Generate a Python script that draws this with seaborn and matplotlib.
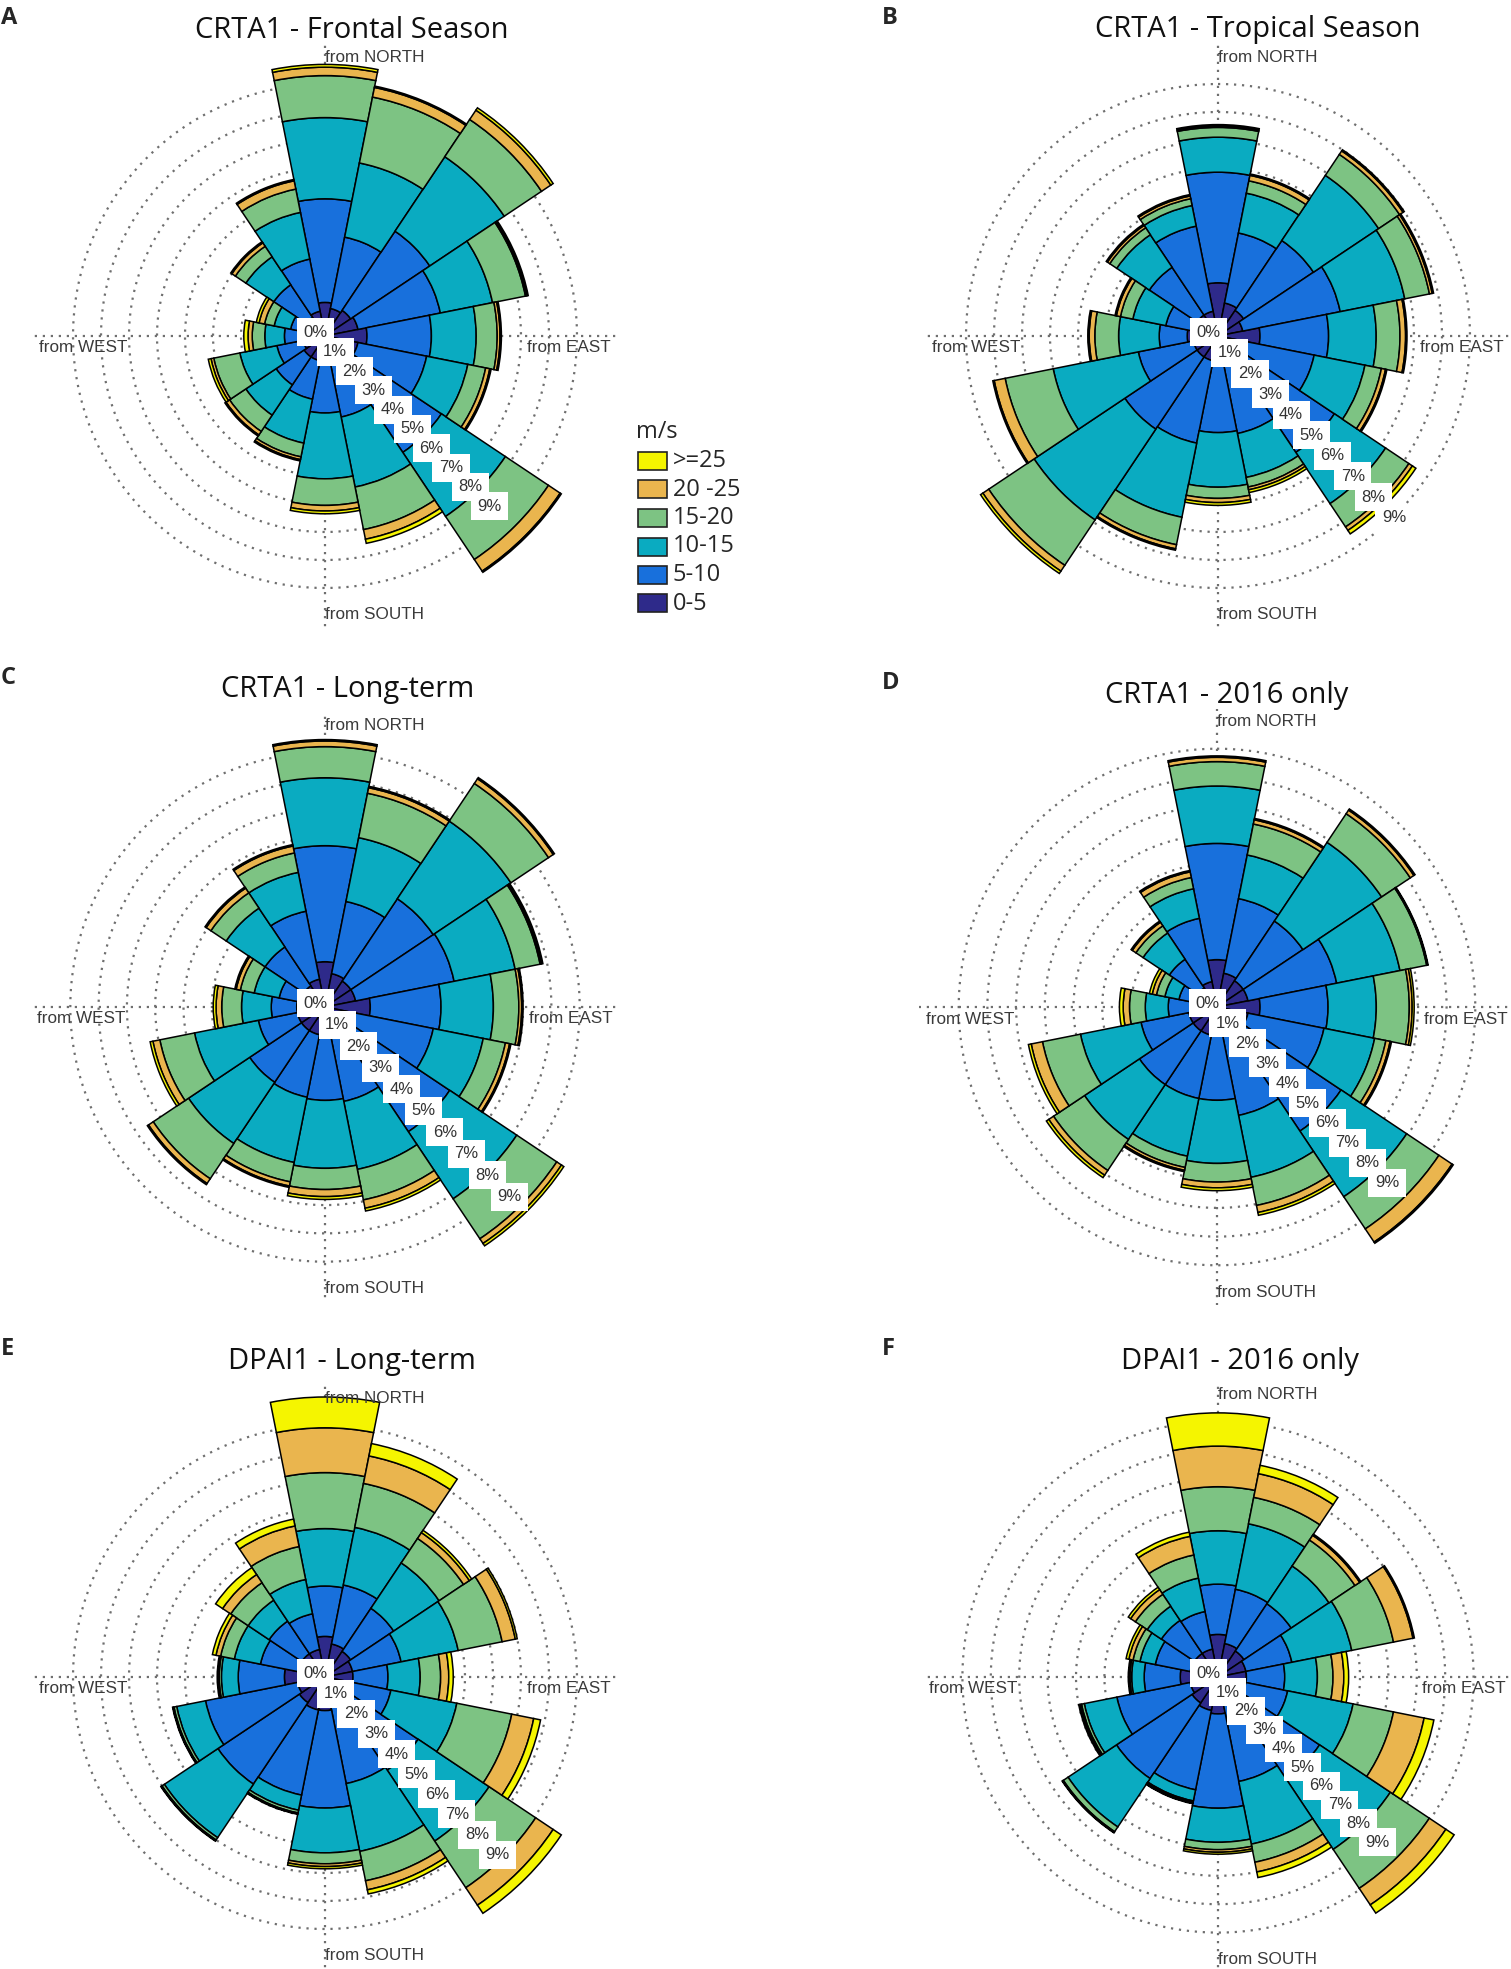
import numpy as np
import matplotlib
matplotlib.use("Agg")
import matplotlib.pyplot as plt
from matplotlib.patches import Rectangle
import seaborn as sns

sns.set_theme(style="white")
plt.rcParams['font.family'] = ['Liberation Sans', 'DejaVu Sans']

## Data: cumulative frequency (%) at the outer edge of each speed class,
## rows = direction the wind blows from, cols = 0-5, 5-10, 10-15, 15-20, 20-25, >=25 m/s
directions = ['N', 'NNE', 'NE', 'ENE', 'E', 'ESE', 'SE', 'SSE',
              'S', 'SSW', 'SW', 'WSW', 'W', 'WNW', 'NW', 'NNW']
speed_labels = ['0-5', '5-10', '10-15', '15-20', '20 -25', '>=25']
bin_colors = sns.color_palette(['#2e2a8a', '#1870dc', '#0aabc1',
                                '#7dc383', '#eab54e', '#f5f500'])

crta1_frontal = [
    [1.2, 4.9, 7.8, 9.3, 9.6, 9.7],
    [1.0, 3.6, 6.3, 8.7, 9.05, 9.1],
    [1.1, 4.5, 7.7, 9.3, 9.7, 9.8],
    [1.2, 4.2, 6.1, 7.3, 7.35, 7.4],
    [1.5, 3.8, 5.4, 6.15, 6.25, 6.3],
    [1.2, 3.7, 5.2, 5.85, 6.0, 6.05],
    [1.0, 5.0, 7.75, 9.6, 10.1, 10.15],
    [1.0, 2.95, 5.5, 7.05, 7.4, 7.55],
    [0.9, 2.75, 5.1, 6.05, 6.25, 6.35],
    [0.9, 2.3, 3.9, 4.4, 4.5, 4.55],
    [0.9, 2.1, 3.4, 4.1, 4.25, 4.3],
    [0.8, 1.75, 3.1, 4.05, 4.15, 4.25],
    [0.8, 1.45, 2.15, 2.6, 2.75, 2.9],
    [0.8, 1.25, 1.85, 2.2, 2.4, 2.5],
    [0.8, 2.2, 3.4, 3.85, 4.0, 4.05],
    [0.9, 2.8, 4.5, 5.35, 5.65, 5.7],
]
crta1_tropical = [
    [1.9, 5.85, 7.1, 7.45, 7.5, 7.55],
    [1.2, 3.75, 5.2, 5.65, 5.85, 5.9],
    [1.1, 4.1, 6.9, 7.8, 7.95, 8.0],
    [0.9, 4.45, 6.8, 7.7, 7.8, 7.85],
    [1.5, 3.95, 5.65, 6.5, 6.7, 6.75],
    [1.0, 3.5, 5.35, 5.95, 6.1, 6.15],
    [1.0, 5.0, 7.2, 8.2, 8.35, 8.5],
    [1.0, 3.55, 5.15, 5.5, 5.6, 5.7],
    [0.9, 3.45, 5.4, 5.8, 5.95, 6.05],
    [0.9, 3.9, 6.6, 7.6, 7.75, 7.8],
    [0.9, 4.0, 7.9, 9.85, 10.1, 10.2],
    [0.9, 2.9, 6.0, 7.75, 8.15, 8.2],
    [1.1, 2.1, 3.55, 4.4, 4.6, 4.65],
    [0.9, 1.9, 3.1, 3.55, 3.7, 3.75],
    [0.9, 2.95, 4.35, 4.65, 4.75, 4.8],
    [0.9, 4.0, 4.75, 5.0, 5.1, 5.15],
]
crta1_longterm = [
    [1.6, 5.7, 8.1, 9.2, 9.4, 9.45],
    [1.2, 3.8, 6.1, 7.7, 7.9, 7.95],
    [1.1, 4.6, 7.9, 9.5, 9.7, 9.75],
    [1.1, 4.65, 6.85, 7.75, 7.8, 7.85],
    [1.6, 4.1, 5.95, 6.85, 6.95, 7.0],
    [1.1, 3.9, 5.7, 6.5, 6.65, 6.7],
    [1.1, 5.3, 8.15, 9.85, 10.05, 10.15],
    [1.0, 3.4, 5.85, 6.95, 7.25, 7.35],
    [1.0, 3.3, 5.7, 6.45, 6.7, 6.8],
    [1.0, 3.25, 5.6, 6.3, 6.45, 6.5],
    [1.0, 3.2, 5.8, 7.3, 7.5, 7.55],
    [1.0, 2.4, 4.7, 5.95, 6.2, 6.3],
    [1.0, 1.9, 2.95, 3.65, 3.85, 3.95],
    [0.9, 1.65, 2.55, 3.05, 3.2, 3.25],
    [0.9, 2.55, 4.2, 4.85, 5.05, 5.1],
    [1.0, 3.45, 4.85, 5.55, 5.8, 5.85],
]
crta1_2016 = [
    [1.65, 5.7, 7.7, 8.55, 8.7, 8.75],
    [1.2, 3.85, 5.4, 6.5, 6.65, 6.7],
    [1.1, 3.6, 6.9, 8.1, 8.25, 8.3],
    [1.1, 4.25, 6.5, 7.45, 7.48, 7.5],
    [1.5, 3.87, 5.55, 6.7, 6.8, 6.87],
    [1.1, 3.8, 5.6, 6.0, 6.15, 6.2],
    [1.0, 5.2, 7.95, 9.3, 9.85, 9.9],
    [1.0, 3.85, 6.05, 7.05, 7.3, 7.4],
    [1.0, 3.25, 5.45, 6.1, 6.3, 6.4],
    [1.0, 3.25, 5.3, 5.7, 5.8, 5.85],
    [1.0, 3.25, 5.55, 6.85, 7.05, 7.15],
    [1.0, 2.7, 4.85, 6.2, 6.6, 6.7],
    [0.9, 1.7, 2.5, 3.05, 3.27, 3.4],
    [0.8, 1.35, 1.85, 2.15, 2.3, 2.4],
    [0.8, 2.0, 3.1, 3.4, 3.55, 3.6],
    [0.9, 3.15, 4.2, 4.6, 4.8, 4.85],
]
dpai1_longterm = [
    [1.45, 3.25, 5.3, 7.3, 8.9, 10.0],
    [1.2, 3.35, 5.45, 7.05, 8.05, 8.5],
    [1.1, 2.95, 4.9, 5.95, 6.2, 6.3],
    [1.0, 2.77, 4.85, 6.45, 6.93, 7.0],
    [1.0, 2.25, 3.4, 4.13, 4.42, 4.58],
    [1.0, 2.4, 4.8, 6.8, 7.6, 7.85],
    [1.0, 4.0, 7.05, 9.05, 9.8, 10.15],
    [1.0, 3.88, 6.35, 7.42, 7.75, 7.9],
    [1.2, 4.68, 6.28, 6.67, 6.77, 6.85],
    [1.2, 4.3, 4.85, 4.95, 4.98, 5.0],
    [1.1, 4.6, 6.9, 7.0, 7.03, 7.05],
    [1.0, 4.35, 5.4, 5.5, 5.53, 5.55],
    [1.45, 3.1, 3.7, 3.78, 3.82, 3.85],
    [1.0, 2.35, 3.3, 3.8, 3.97, 4.1],
    [1.0, 2.4, 3.3, 4.05, 4.4, 4.7],
    [1.0, 2.3, 3.55, 4.75, 5.5, 5.75],
]
dpai1_2016 = [
    [1.5, 3.27, 5.15, 6.7, 8.13, 9.3],
    [1.2, 3.15, 5.5, 6.45, 7.3, 7.6],
    [1.1, 3.1, 4.7, 5.8, 6.0, 6.05],
    [1.0, 2.65, 4.8, 6.3, 7.0, 7.05],
    [1.0, 2.35, 3.5, 4.05, 4.43, 4.6],
    [1.0, 2.5, 4.85, 6.3, 7.4, 7.75],
    [1.0, 4.3, 7.3, 8.95, 9.65, 10.0],
    [1.0, 3.75, 6.0, 6.65, 7.0, 7.2],
    [1.3, 4.62, 5.82, 6.08, 6.17, 6.24],
    [1.2, 4.05, 4.45, 4.5, 4.53, 4.55],
    [1.1, 4.3, 6.35, 6.55, 6.58, 6.6],
    [1.0, 3.63, 4.8, 4.9, 4.95, 5.0],
    [1.33, 2.6, 3.04, 3.1, 3.13, 3.16],
    [1.0, 2.25, 2.8, 3.05, 3.2, 3.3],
    [1.0, 2.4, 3.0, 3.5, 3.7, 3.8],
    [1.0, 2.35, 3.55, 4.38, 5.05, 5.2],
]

# letter, title, data, rose centre (px), px per 1 %, step of the % labels, title centre (px)
panels = [
    ('A', 'CRTA1 - Frontal Season', crta1_frontal, (325, 336), 28.0, 0.69, (352, 30)),
    ('B', 'CRTA1 - Tropical Season', crta1_tropical, (1218, 336), 28.0, 0.735, (1258, 30)),
    ('C', 'CRTA1 - Long-term', crta1_longterm, (325, 1007), 28.3, 0.76, (348, 690)),
    ('D', 'CRTA1 - 2016 only', crta1_2016, (1217, 1007), 28.7, 0.695, (1227, 695)),
    ('E', 'DPAI1 - Long-term', dpai1_longterm, (325, 1677), 28.0, 0.72, (352, 1361)),
    ('F', 'DPAI1 - 2016 only', dpai1_2016, (1218, 1677), 28.4, 0.66, (1240, 1361)),
]

W, H = 1511, 1969
RMAX = 10.8
fig = plt.figure(figsize=(W / 100, H / 100), dpi=100)

theta = np.deg2rad(np.arange(len(directions)) * 22.5)
sector = 2 * np.pi / len(directions)
grid_kw = dict(color='#6f6f6f', lw=1.6, ls=(0, (1, 2.6)), zorder=1)
label_kw = dict(fontsize=12.3, color='#3a3a3a', zorder=6)


def polar_xy(x, y):
    return np.arctan2(x, y), np.hypot(x, y)


def add_rose(cum, cx, cy, scale, step):
    s = RMAX * scale
    ax = fig.add_axes([(cx - s) / W, (H - cy - s) / H, 2 * s / W, 2 * s / H],
                      projection='polar')
    ax.set_theta_zero_location('N')
    ax.set_theta_direction(-1)
    ax.set_ylim(0, RMAX)
    ax.grid(False)
    ax.set_xticks([])
    ax.set_yticks([])
    ax.spines['polar'].set_visible(False)
    ax.patch.set_alpha(0)

    ring = np.linspace(0, 2 * np.pi, 361)
    for r in range(1, 10):
        ax.plot(ring, np.full_like(ring, r), **grid_kw)
    for a in np.arange(4) * np.pi / 2:
        ax.plot([a, a], [0, 10.4], **grid_kw)

    freq = np.diff(np.asarray(cum), axis=1, prepend=0)
    bottom = np.zeros(len(directions))
    for k in range(len(speed_labels)):
        ax.bar(theta, freq[:, k], width=sector, bottom=bottom, color=bin_colors[k],
               edgecolor='black', linewidth=1.1, zorder=2, clip_on=False)
        bottom = bottom + freq[:, k]

    ax.text(0, 9.95, 'from NORTH', ha='left', va='center', **label_kw)
    ax.text(np.pi, 9.95, 'from SOUTH', ha='left', va='center', **label_kw)
    t, r = polar_xy(-7.05, -0.42)
    ax.text(t, r, 'from WEST', ha='right', va='center', **label_kw)
    t, r = polar_xy(7.2, -0.42)
    ax.text(t, r, 'from EAST', ha='left', va='center', **label_kw)

    # % labels on white boxes, each box overlapping the previous one
    for i in range(10):
        t, r = polar_xy(-0.33 + step * i, 0.13 - step * i)
        ax.text(t, r, f'{i}%', ha='center', va='center', fontsize=12,
                color='#333333', zorder=7,
                bbox=dict(boxstyle='square,pad=0.39', fc='white', ec='none'))
    return ax


for letter, title, cum, (cx, cy), scale, step, (tx, ty) in panels:
    add_rose(cum, cx, cy, scale, step)
    fig.text(tx / W, 1 - ty / H, title, ha='center', va='center',
             fontsize=21, family=['Open Sans', 'DejaVu Sans'], color='#111111')
    lx = 1 if letter in 'ACE' else 882
    fig.text(lx / W, 1 - (ty - 12) / H, letter, ha='left', va='center',
             fontsize=17, weight='bold', family=['Open Sans', 'DejaVu Sans'])

## Legend (speed classes, strongest on top)
fig.text(636 / W, 1 - 432 / H, 'm/s', ha='left', va='center', fontsize=17,
         family=['Open Sans', 'DejaVu Sans'])
for row, k in enumerate(range(len(speed_labels) - 1, -1, -1)):
    yc = 461 + row * 28.5
    fig.add_artist(Rectangle((638 / W, 1 - (yc + 9) / H), 29 / W, 18 / H,
                             transform=fig.transFigure, facecolor=bin_colors[k],
                             edgecolor='#222222', lw=1.2))
    fig.text(673 / W, 1 - yc / H, speed_labels[k], ha='left', va='center',
             fontsize=17, family=['Open Sans', 'DejaVu Sans'])

fig.savefig('out.png', dpi=100, facecolor='white')
